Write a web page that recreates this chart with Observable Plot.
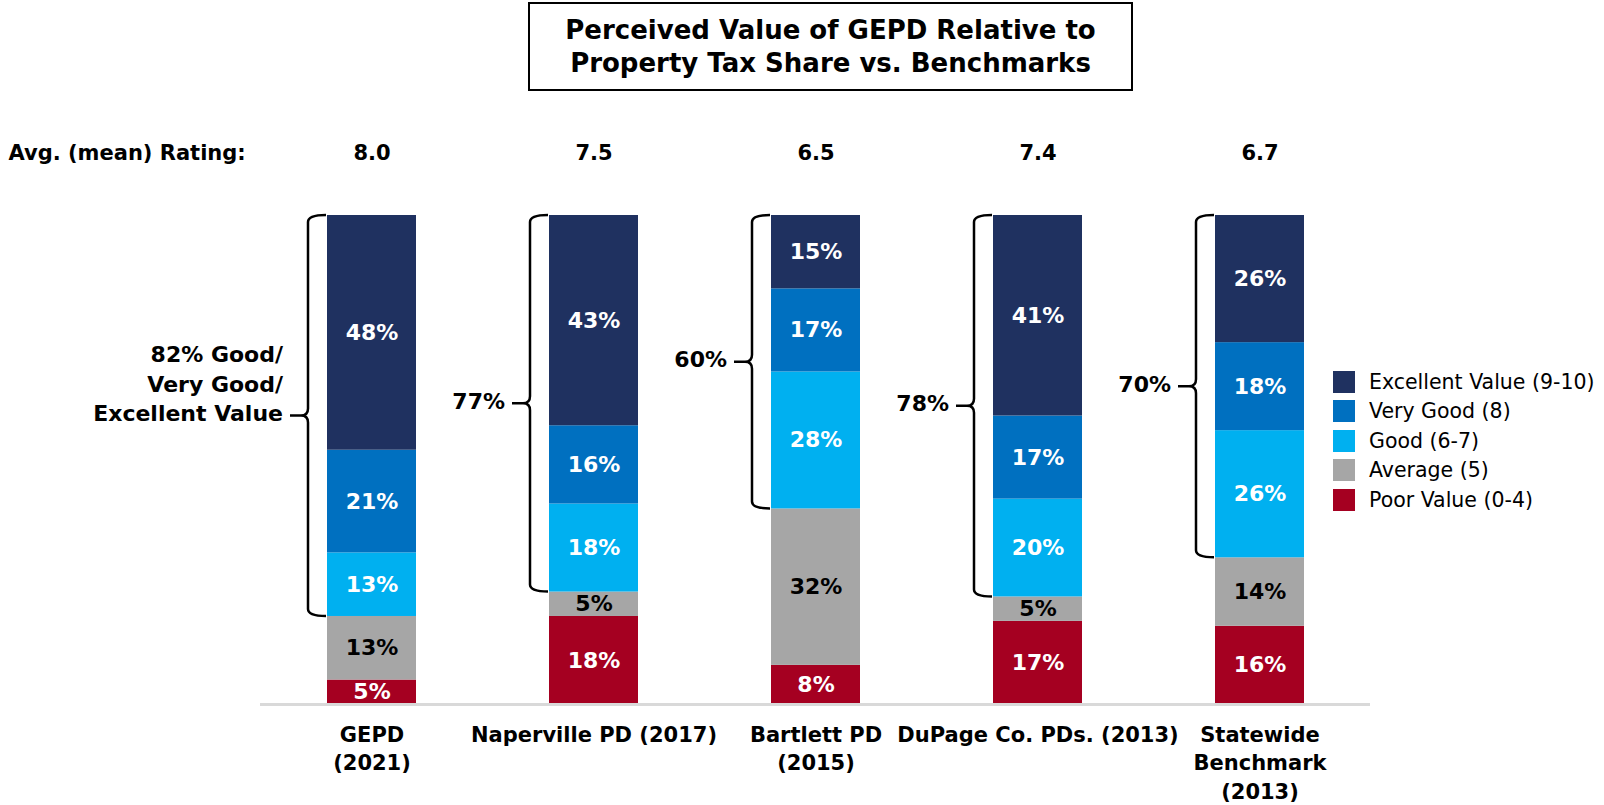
<!DOCTYPE html>
<html>
<head>
<meta charset="utf-8">
<script src="https://cdn.jsdelivr.net/npm/d3@7"></script>
<script src="https://cdn.jsdelivr.net/npm/@observablehq/plot@0.6"></script>
<style>
  html, body { margin: 0; padding: 0; background: #fff; }
  #wrap { position: relative; width: 1604px; height: 805px; font-family: "DejaVu Sans", Verdana, sans-serif; }
  #title { position: absolute; left: 528px; top: 2px; width: 601px; height: 85px; border: 2px solid #000;
           display: flex; align-items: center; justify-content: center; text-align: center;
           font-weight: bold; font-size: 26px; line-height: 33px; color: #000; }
  #legend { position: absolute; left: 1333px; top: 367px; font-size: 20.5px; color: #000; }
  .row { display: flex; align-items: center; height: 29.5px; }
  .sw { width: 22px; height: 22px; margin-right: 14px; flex: none; }
  #chart { position: absolute; left: 0; top: 0; }
</style>
</head>
<body>
<div id="wrap">
  <div id="chart"></div>
  <div id="title">Perceived Value of GEPD Relative to<br>Property Tax Share vs. Benchmarks</div>
  <div id="legend"></div>
</div>
<script>
// ---- data ----
const categories = ["GEPD (2021)", "Naperville PD (2017)", "Bartlett PD (2015)", "DuPage Co. PDs. (2013)", "Statewide Benchmark (2013)"];
const xLabels = ["GEPD\n(2021)", "Naperville PD (2017)", "Bartlett PD\n(2015)", "DuPage Co. PDs. (2013)", "Statewide\nBenchmark\n(2013)"];
const seriesNames = ["Poor Value (0-4)", "Average (5)", "Good (6-7)", "Very Good (8)", "Excellent Value (9-10)"];
const seriesColors = ["#a50021", "#a6a6a6", "#00b0f0", "#0070c0", "#1f3160"];
const poor = [5, 18, 8, 17, 16];
const average = [13, 5, 32, 5, 14];
const good = [13, 18, 28, 20, 26];
const veryGood = [21, 16, 17, 17, 18];
const excellent = [48, 43, 15, 41, 26];
const avgRating = ["8.0", "7.5", "6.5", "7.4", "6.7"];
const ratingLabel = "Avg. (mean) Rating:";

// ---- tables ----
const seriesValues = [poor, average, good, veryGood, excellent];
const rows = [];
categories.forEach((c, i) => {
  seriesNames.forEach((s, j) => rows.push({category: c, series: s, value: seriesValues[j][i]}));
});
const braces = categories.map((c, i) => {
  const bottom = poor[i] + average[i];
  const total = good[i] + veryGood[i] + excellent[i];
  return {
    category: c, bottom, top: bottom + total, mid: bottom + total / 2,
    label: i === 0 ? `${total}% Good/\nVery Good/\nExcellent Value` : `${total}%`
  };
});
const heads = categories.map((c, i) => ({category: c, label: xLabels[i], rating: avgRating[i]}));

const FONT = "DejaVu Sans, Verdana, sans-serif";

function braceMark(a, b, c, d) {
  let scales;
  if (a && typeof a.x === "function") scales = a; else scales = b;
  const x = scales.x, y = scales.y;
  const g = d3.create("svg:g").attr("fill", "none").attr("stroke", "#000").attr("stroke-width", 2.5);
  for (const br of braces) {
    const bx = x(br.category);
    const L = bx - 19;
    const yt = y(br.top), yb = y(br.bottom), ym = y(br.mid);
    const p = d3.path();
    p.moveTo(bx - 1, yt);
    p.quadraticCurveTo(L, yt, L, yt + 7);
    p.lineTo(L, ym - 7);
    p.quadraticCurveTo(L, ym, L - 7, ym);
    p.lineTo(L - 18, ym);
    p.moveTo(L - 7, ym);
    p.quadraticCurveTo(L, ym, L, ym + 7);
    p.lineTo(L, yb - 7);
    p.quadraticCurveTo(L, yb, bx - 1, yb);
    g.append("path").attr("d", p.toString());
  }
  return g.node();
}

const isAvg = d => d.series === "Average (5)";

const chart = Plot.plot({
  width: 1604,
  height: 805,
  marginLeft: 260,
  marginRight: 234,
  marginTop: 215,
  marginBottom: 101,
  style: {fontFamily: FONT, background: "transparent"},
  x: {domain: categories, paddingInner: 0.6, paddingOuter: 0.3, axis: null},
  y: {domain: [0, 100], axis: null},
  color: {domain: seriesNames, range: seriesColors},
  marks: [
    Plot.barY(rows, Plot.stackY({x: "category", y: "value", fill: "series", order: null})),
    Plot.ruleY([0], {stroke: "#d9d9d9", strokeWidth: 3}),
    Plot.text(rows, Plot.stackY({
      x: "category", y: "value", order: null, text: d => isAvg(d) ? "" : d.value + "%",
      fill: "white", fontSize: 22, fontWeight: "bold"
    })),
    Plot.text(rows, Plot.stackY({
      x: "category", y: "value", order: null, text: d => isAvg(d) ? d.value + "%" : "",
      fill: "black", fontSize: 22, fontWeight: "bold"
    })),
    braceMark,
    Plot.text(braces, {
      x: "category", y: "mid", text: "label", textAnchor: "end", lineAnchor: "bottom",
      dx: -89, dy: 5, lineHeight: 1.34, fontSize: 22, fontWeight: "bold", fill: "black"
    }),
    Plot.text(heads, {
      x: "category", text: "rating", frameAnchor: "top", dy: -62, lineAnchor: "middle",
      fontSize: 21, fontWeight: "bold", fill: "black"
    }),
    Plot.text([ratingLabel], {
      text: d => d, frameAnchor: "top-left", dx: -252, dy: -62, textAnchor: "start", lineAnchor: "middle",
      fontSize: 21, fontWeight: "bold", fill: "black"
    }),
    Plot.text(heads, {
      x: "category", text: "label", frameAnchor: "bottom", lineAnchor: "top", dy: 17, lineHeight: 1.36,
      fontSize: 21, fontWeight: "bold", fill: "black"
    })
  ]
});
document.getElementById("chart").appendChild(chart);

// legend (top to bottom: Excellent first)
const legend = d3.select("#legend");
for (let j = seriesNames.length - 1; j >= 0; j--) {
  const row = legend.append("div").attr("class", "row");
  row.append("div").attr("class", "sw").style("background", seriesColors[j]);
  row.append("span").text(seriesNames[j]);
}
</script>
</body>
</html>
